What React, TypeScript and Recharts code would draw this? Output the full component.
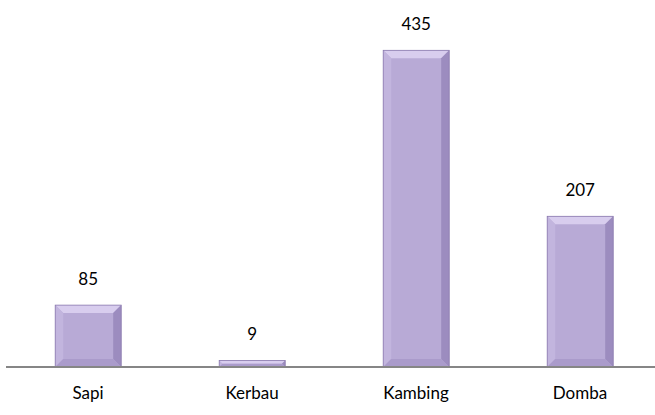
import { Bar, BarChart, LabelList, XAxis, YAxis } from "recharts";

const categories = ["Sapi", "Kerbau", "Kambing", "Domba"];
const values = [85, 9, 435, 207];

const data = categories.map((name, i) => ({ name, value: values[i] }));

const FONT = "Lato, 'Open Sans', sans-serif";

// bevelled bar like the office "relief" effect
function BevelBar(props: any) {
    const { x, y, width, height } = props;
    if (!height || height <= 0) return null;
    const b = Math.min(8, height / 2, width / 2);
    const x2 = x + width;
    const y2 = y + height;
    return (
        <g>
            <rect x={x} y={y} width={width} height={height} fill="#b8aad6" />
            <polygon points={`${x},${y} ${x2},${y} ${x2 - b},${y + b} ${x + b},${y + b}`} fill="#d8cdee" />
            <polygon points={`${x},${y} ${x + b},${y + b} ${x + b},${y2 - b} ${x},${y2}`} fill="#c2b5de" />
            <polygon points={`${x2},${y} ${x2},${y2} ${x2 - b},${y2 - b} ${x2 - b},${y + b}`} fill="#9c8cbf" />
            <polygon points={`${x},${y2} ${x + b},${y2 - b} ${x2 - b},${y2 - b} ${x2},${y2}`} fill="#aa9bcb" />
            <rect x={x} y={y} width={width} height={height} fill="none" stroke="#8a7aae" strokeWidth={0.8} />
        </g>
    );
}

export default function App() {
    return (
        <div style={{ position: "absolute", left: 0, top: 0, width: 655, height: 415, overflow: "hidden", background: "#fff" }}>
            <BarChart
                width={662}
                height={415}
                data={data}
                margin={{ top: 3, right: 0, bottom: 18, left: 6 }}
                barCategoryGap="30%"
            >
                <XAxis
                    dataKey="name"
                    tickLine={false}
                    axisLine={{ stroke: "#868686", strokeWidth: 2 }}
                    tick={{ fill: "#000", fontSize: 17, fontFamily: FONT }}
                    dy={12}
                />
                <YAxis hide domain={[0, 500]} />
                <Bar dataKey="value" isAnimationActive={false} shape={<BevelBar />}>
                    <LabelList
                        dataKey="value"
                        position="top"
                        offset={20}
                        style={{ fill: "#000", fontSize: 17, fontFamily: FONT }}
                    />
                </Bar>
            </BarChart>
        </div>
    );
}
